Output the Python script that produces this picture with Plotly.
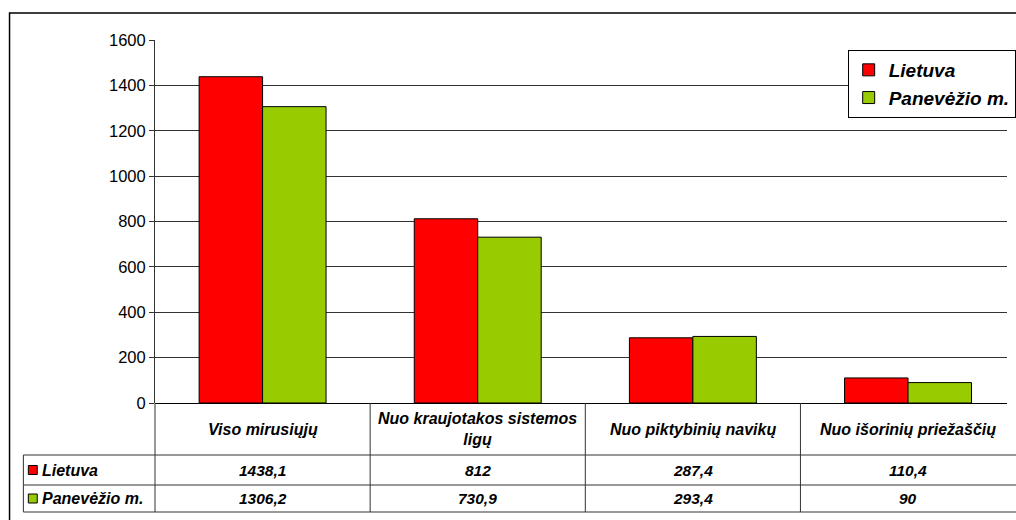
import plotly.graph_objects as go

categories = ["Viso mirusiųjų", "Nuo kraujotakos sistemos<br>ligų", "Nuo piktybinių navikų", "Nuo išorinių priežaščių"]
series_names = ["Lietuva", "Panevėžio m."]
lietuva = [1438.1, 812, 287.4, 110.4]
panevezys = [1306.2, 730.9, 293.4, 90]
colors = ["#FF0000", "#99CC00"]
y_ticks = [0, 200, 400, 600, 800, 1000, 1200, 1400, 1600]

W, H = 1016, 520
# plot area in window pixel coordinates
L, R, T, B = 155, 1016, 40, 403
FONT = "Liberation Sans, Arial, sans-serif"
LINE = "#333333"


def px_x(x):
    return (x - L) / (R - L)


def px_y(y):
    return (B - y) / (B - T)


def fmt(v):
    return ("%g" % v).replace(".", ",")


fig = go.Figure()
for name, vals, col in zip(series_names, [lietuva, panevezys], colors):
    fig.add_trace(go.Bar(
        x=list(range(len(categories))), y=vals, name="<b><i>%s</i></b>" % name, legendgroup=name,
        marker=dict(color=col, line=dict(color="#000000", width=1)),
    ))

shapes = []
annotations = []

# outer border
shapes.append(dict(type="rect", xref="paper", yref="paper",
                   x0=px_x(8), x1=px_x(1030), y0=px_y(530), y1=px_y(13),
                   line=dict(color="#000000", width=1.5), fillcolor="rgba(0,0,0,0)", layer="below"))

row_header = (403, 455)
row1 = (455, 485)
row2 = (485, 512)

for yy in [row1[0], row2[0], row2[1]]:
    shapes.append(dict(type="line", xref="paper", yref="paper",
                       x0=px_x(22), x1=px_x(1030), y0=px_y(yy), y1=px_y(yy),
                       line=dict(color=LINE, width=1)))
shapes.append(dict(type="line", xref="paper", yref="paper",
                   x0=px_x(22), x1=px_x(22), y0=px_y(row1[0]), y1=px_y(row2[1]),
                   line=dict(color=LINE, width=1)))
shapes.append(dict(type="line", xref="paper", yref="paper",
                   x0=0, x1=0, y0=px_y(row_header[0]), y1=px_y(row2[1]),
                   line=dict(color=LINE, width=1)))
for i in range(1, len(categories)):
    shapes.append(dict(type="line", xref="x", yref="paper",
                       x0=i - 0.5, x1=i - 0.5, y0=px_y(row_header[0]), y1=px_y(row2[1]),
                       line=dict(color=LINE, width=1)))

TF = dict(family=FONT, size=16, color="#000000")
for i, c in enumerate(categories):
    annotations.append(dict(x=i, y=px_y((row_header[0] + row_header[1]) / 2), xref="x", yref="paper",
                            text="<b><i>%s</i></b>" % c, showarrow=False, font=TF,
                            xanchor="center", yanchor="middle"))
for vals, row, name, col in zip([lietuva, panevezys], [row1, row2], series_names, colors):
    ymid = px_y((row[0] + row[1]) / 2)
    for i, v in enumerate(vals):
        annotations.append(dict(x=i, y=ymid, xref="x", yref="paper",
                                text="<b><i>%s</i></b>" % fmt(v), showarrow=False,
                                font=dict(family=FONT, size=15.5, color="#000000"),
                                xanchor="center", yanchor="middle"))
    ypix = (row[0] + row[1]) / 2
    shapes.append(dict(type="rect", xref="paper", yref="paper",
                       x0=px_x(27), x1=px_x(36), y0=px_y(ypix + 4.5), y1=px_y(ypix - 4.5),
                       line=dict(color="#000000", width=1), fillcolor=col))
    annotations.append(dict(x=px_x(39), y=ymid, xref="paper", yref="paper",
                            text="<b><i>%s</i></b>" % name, showarrow=False, font=TF,
                            xanchor="left", yanchor="middle"))

fig.update_layout(
    width=W, height=H,
    margin=dict(l=L, r=W - R, t=T, b=H - B, pad=0),
    paper_bgcolor="#FFFFFF", plot_bgcolor="#FFFFFF",
    barmode="group", bargap=0.41, bargroupgap=0,
    font=dict(family=FONT, color="#000000"),
    xaxis=dict(range=[-0.5, 3.46], showticklabels=False, showgrid=False, zeroline=False,
               showline=False, ticks=""),
    yaxis=dict(range=[0, 1600], tickvals=y_ticks, ticktext=[str(t) for t in y_ticks],
               showgrid=True, gridcolor=LINE, gridwidth=1,
               showline=True, linecolor=LINE, linewidth=1,
               ticks="outside", ticklen=5, tickcolor=LINE,
               zeroline=True, zerolinecolor="#000000", zerolinewidth=1,
               tickfont=dict(family=FONT, size=16.5, color="#000000")),
    legend=dict(x=px_x(855), y=px_y(50), xanchor="left", yanchor="top",
                bgcolor="#FFFFFF", bordercolor="#000000", borderwidth=1,
                font=dict(family=FONT, size=19, color="#000000"),
                tracegroupgap=0, itemwidth=30),
    shapes=shapes, annotations=annotations,
)

fig.write_html("out.html", config={"displayModeBar": False},
               post_script="document.body.style.margin='0';document.body.style.overflow='hidden';")
